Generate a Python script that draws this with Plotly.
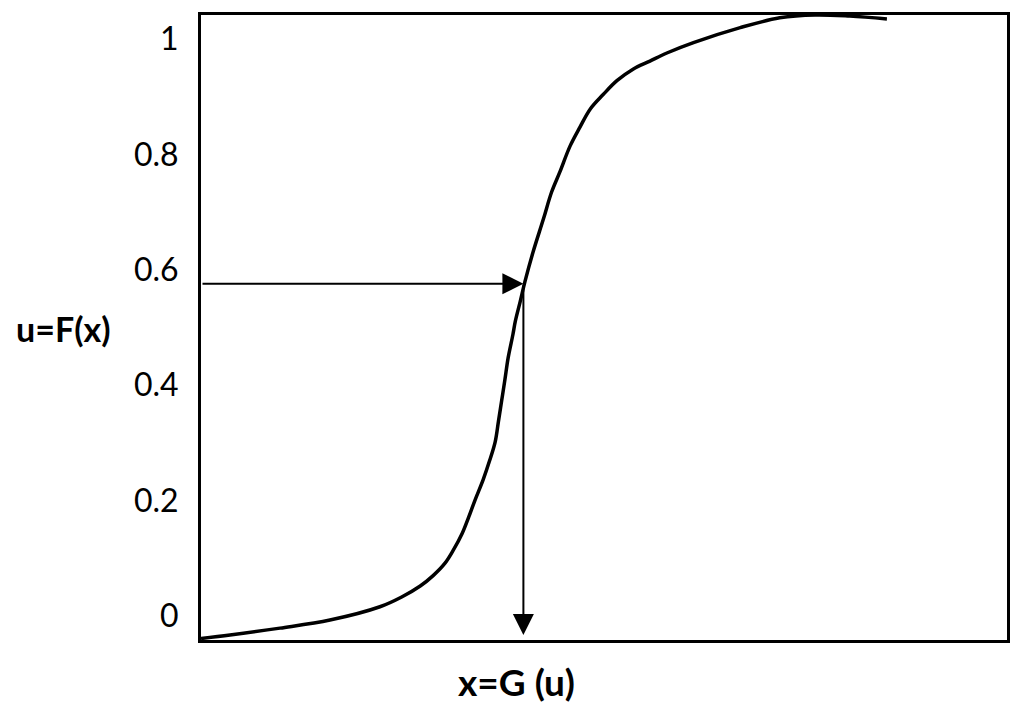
import plotly.graph_objects as go

# curve (x has no scale in the original, 0..10 across the box)
curve_x = [0.0, 0.36, 0.98, 1.60, 2.22, 2.49, 2.72, 2.88, 3.03, 3.13, 3.24, 3.32, 3.40,
           3.50, 3.58, 3.65, 3.69, 3.73, 3.77, 3.81, 3.87, 3.90, 3.96, 4.02, 4.12, 4.25,
           4.35, 4.45, 4.58, 4.70, 4.83, 4.99, 5.16, 5.36, 5.57, 5.78, 6.11, 6.69, 7.18,
           7.62, 8.05, 8.51]
curve_u = [-0.039, -0.033, -0.021, -0.007, 0.016, 0.033, 0.052, 0.070, 0.092, 0.114,
           0.143, 0.171, 0.201, 0.236, 0.269, 0.302, 0.337, 0.373, 0.409, 0.447, 0.488,
           0.511, 0.545, 0.580, 0.631, 0.689, 0.735, 0.769, 0.815, 0.847, 0.879, 0.904,
           0.928, 0.948, 0.962, 0.976, 0.994, 1.020, 1.037, 1.042, 1.040, 1.035]

# the point picked on the curve and where the arrows start / end
u_pick = 0.576
x_pick = 4.0
u_floor = -0.033

tick_vals = [0, 0.2, 0.4, 0.6, 0.8, 1]
tick_text = ["0", "0.2", "0.4", "0.6", "0.8", "1"]

fig = go.Figure()

fig.add_trace(go.Scatter(
    x=curve_x, y=curve_u,
    mode="lines",
    line=dict(color="black", width=3.5, shape="spline", smoothing=1.0),
    hoverinfo="skip",
    showlegend=False,
))

# horizontal arrow u -> curve, then vertical arrow curve -> x
fig.add_annotation(x=x_pick, y=u_pick, ax=0, ay=u_pick,
                   xref="x", yref="y", axref="x", ayref="y",
                   text="", showarrow=True, arrowhead=2, arrowsize=2.1,
                   arrowwidth=2, arrowcolor="black", standoff=0)
fig.add_annotation(x=x_pick, y=u_floor, ax=x_pick, ay=u_pick,
                   xref="x", yref="y", axref="x", ayref="y",
                   text="", showarrow=True, arrowhead=2, arrowsize=2.1,
                   arrowwidth=2, arrowcolor="black", standoff=0)

# axis labels as free text, like in the picture
fig.add_annotation(text="<b>u=F(x)</b>", xref="paper", yref="y",
                   x=-0.171, y=0.4985, xanchor="center", yanchor="middle",
                   showarrow=False, font=dict(family="Lato", size=34, color="black"))
fig.add_annotation(text="<b>x=G (u)</b>", xref="x", yref="paper",
                   x=3.91, y=-0.067, xanchor="center", yanchor="middle",
                   showarrow=False, font=dict(family="Lato", size=37, color="black"))

fig.update_xaxes(range=[0, 10], showgrid=False, zeroline=False, showticklabels=False,
                 showline=True, linewidth=3, linecolor="black", mirror=True)
fig.update_yaxes(range=[-0.0416, 1.0419], showgrid=False, zeroline=False,
                 tickmode="array", tickvals=tick_vals, ticktext=tick_text,
                 ticks="", ticklabelstandoff=13,
                 tickfont=dict(family="Lato", size=32, color="black"),
                 showline=True, linewidth=3, linecolor="black", mirror=True)

# page has an 8px body margin, so the figure is a bit smaller than the window
fig.update_layout(
    width=1016, height=705,
    margin=dict(l=193, r=17, t=4, b=73),
    plot_bgcolor="white",
    paper_bgcolor="white",
    showlegend=False,
)

fig.write_html("out.html")
